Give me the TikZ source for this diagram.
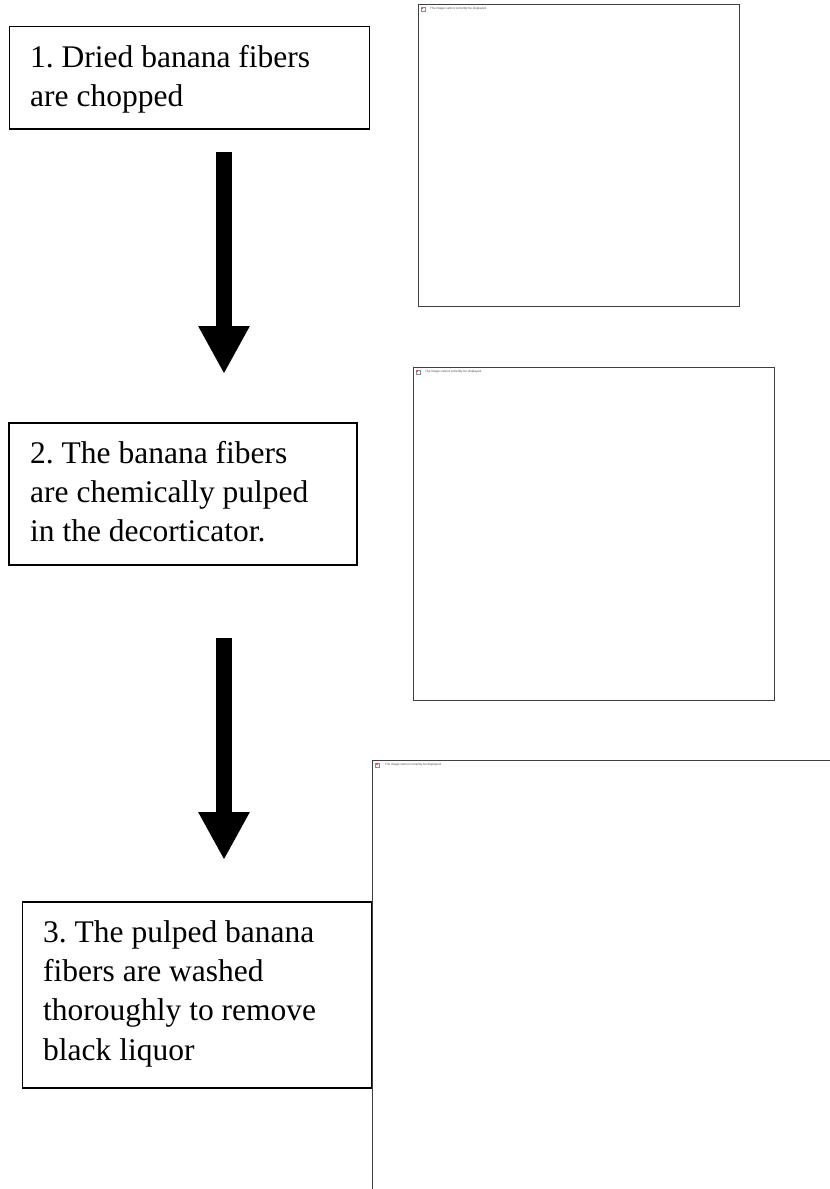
\documentclass[tikz,border=0pt]{standalone}
\usepackage{fontspec}
\setmainfont{Liberation Serif}
\newfontfamily\phfont{Liberation Sans}
\usetikzlibrary{arrows.meta}
\frenchspacing
\begin{document}
\begin{tikzpicture}[x=1pt,y=-1pt,
  stepbox/.style={draw=black,line width=1.2pt,anchor=north west,inner sep=0pt,outer sep=0pt},
  steptext/.style={anchor=north west,inner sep=0pt,align=left,font=\frenchspacing\fontsize{31.5}{39.3}\selectfont},
  imgframe/.style={draw=black!75,line width=1pt,anchor=north west,inner sep=0pt,outer sep=0pt},
  phicon/.style={draw=black!45,fill=white,line width=0.3pt,anchor=north west,minimum size=4pt,inner sep=0pt},
  phmark/.style={fill=red!70,anchor=north west,minimum size=1.6pt,inner sep=0pt},
  phtext/.style={anchor=west,inner sep=0pt,font=\phfont\fontsize{3.1}{3.7}\selectfont,text=black!70},
  flow/.style={line width=16pt,-{Triangle[width=48pt,length=48pt]}}
]
\useasboundingbox (0,0) rectangle (830,1189);
\clip (0,0) rectangle (830,1189);

% step boxes
\node[stepbox,minimum width=360pt,minimum height=102.5pt] (b1) at (9.5,26.5) {};
\node[steptext] (t1) at (30,45) {\rule{0pt}{22pt}1. Dried banana fibers\\are chopped};

\node[stepbox,minimum width=348pt,minimum height=142pt] (b2) at (9,423) {};
\node[steptext] (t2) at (30,441) {\rule{0pt}{22pt}2. The banana fibers\\are chemically pulped\\in the decorticator.};

\node[stepbox,minimum width=348.8pt,minimum height=186pt] (b3) at (22.8,902) {};
\node[steptext] (t3) at (43,920) {\rule{0pt}{22pt}3. The pulped banana\\fibers are washed\\thoroughly to remove\\black liquor};

% arrows
\coordinate (a1s) at (224,152);
\coordinate (a1e) at (224,374);
\draw[flow] (a1s) -- (a1e);
\coordinate (a2s) at (224,638);
\coordinate (a2e) at (224,860);
\draw[flow] (a2s) -- (a2e);

% image placeholders
\node[imgframe,minimum width=321.5pt,minimum height=301.5pt] (img1) at (418,4.5) {};
\node[phicon] (ic1) at ([shift={(2.5,2.5)}]img1.north west) {};
\node[phmark] (m1) at ([shift={(0.6,0.6)}]ic1.north west) {};
\node[phtext] (p1) at ([shift={(12,4.5)}]img1.north west) {The image cannot currently be displayed.};

\node[imgframe,minimum width=361.5pt,minimum height=333pt] (img2) at (413,367) {};
\node[phicon] (ic2) at ([shift={(2.5,2.5)}]img2.north west) {};
\node[phmark] (m2) at ([shift={(0.6,0.6)}]ic2.north west) {};
\node[phtext] (p2) at ([shift={(12,4.5)}]img2.north west) {The image cannot currently be displayed.};

\node[imgframe,minimum width=480pt,minimum height=460pt] (img3) at (372.7,760) {};
\node[phicon] (ic3) at ([shift={(2.5,2.5)}]img3.north west) {};
\node[phmark] (m3) at ([shift={(0.6,0.6)}]ic3.north west) {};
\node[phtext] (p3) at ([shift={(12,4.5)}]img3.north west) {The image cannot currently be displayed.};
\end{tikzpicture}
\end{document}
